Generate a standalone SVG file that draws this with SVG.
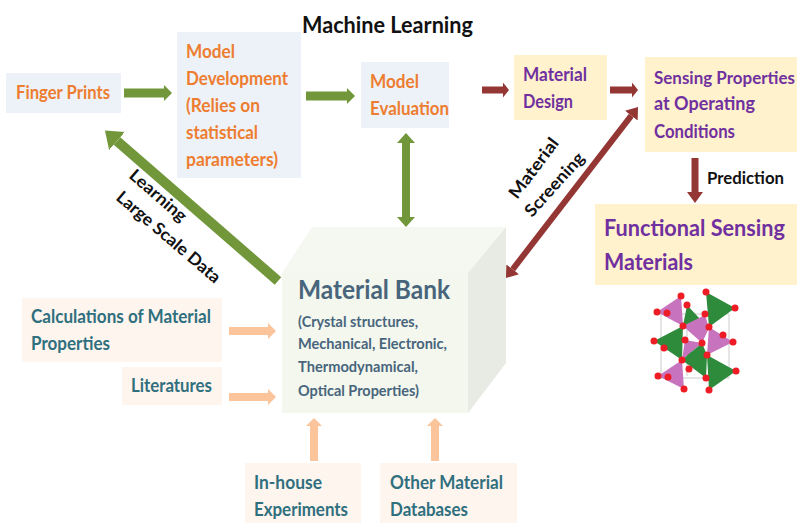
<svg xmlns="http://www.w3.org/2000/svg" width="797" height="523" viewBox="0 0 797 523">
<style>
text{font-family:Lato,"Liberation Sans",sans-serif;font-weight:700}
.o{fill:#ed7d31;font-size:18px}
.p{fill:#7030a0;font-size:18px}
.t{fill:#2f6f7e;font-size:18px}
.b{fill:#48657c;font-size:15.5px}
.k{fill:#111;font-size:17px}
.f{fill:#7030a0;font-size:22px}
.blue{fill:#edf2f8}.yel{fill:#fff2cc}.pea{fill:#fdf5ee}
.gl{stroke:#71973a;fill:none}.rl{stroke:#943634;fill:none}.pl{stroke:#fbc49a;fill:none}
.green{fill:#71973a}.red{fill:#943634}.peach{fill:#fbc49a}
.m{fill:#c873bd}.g{fill:#2e8b3c}.d{fill:#ee1c25}
</style>
<defs>
<marker id="ag" markerUnits="userSpaceOnUse" markerWidth="10" markerHeight="18" refX="0" refY="8" orient="auto"><path class="green" d="M0 0L8 8L0 16Z"/></marker>
<marker id="agl" markerUnits="userSpaceOnUse" markerWidth="18" markerHeight="26" refX="0" refY="12" orient="auto"><path class="green" d="M0 0L16 12L0 24Z"/></marker>
<marker id="agb" markerUnits="userSpaceOnUse" markerWidth="12" markerHeight="20" refX="0" refY="9" orient="auto-start-reverse"><path class="green" d="M0 0L10 9L0 18Z"/></marker>
<marker id="ar" markerUnits="userSpaceOnUse" markerWidth="8" markerHeight="16" refX="0" refY="7.5" orient="auto"><path class="red" d="M0 0L6 7.5L0 15Z"/></marker>
<marker id="ard" markerUnits="userSpaceOnUse" markerWidth="14" markerHeight="18" refX="0" refY="8" orient="auto-start-reverse"><path class="red" d="M0 0L11 8L0 16Z"/></marker>
<marker id="ap" markerUnits="userSpaceOnUse" markerWidth="10" markerHeight="18" refX="0" refY="8" orient="auto"><path class="peach" d="M0 0L8 8L0 16Z"/></marker>
</defs>

<text id="title" class="k" x="302" y="33" style="font-size:22.5px" textLength="171" lengthAdjust="spacingAndGlyphs">Machine Learning</text>

<g id="finger-prints"><rect class="blue" x="6" y="73" width="115" height="40"/><text class="o" x="16" y="99" textLength="94" lengthAdjust="spacingAndGlyphs">Finger Prints</text></g>
<g id="model-development"><rect class="blue" x="177" y="32" width="124" height="146"/>
<text class="o" x="186" y="58" textLength="49" lengthAdjust="spacingAndGlyphs">Model</text><text class="o" x="186" y="85" textLength="102" lengthAdjust="spacingAndGlyphs">Development</text><text class="o" x="186" y="112" textLength="74" lengthAdjust="spacingAndGlyphs">(Relies on</text><text class="o" x="186" y="139" textLength="72" lengthAdjust="spacingAndGlyphs">statistical</text><text class="o" x="186" y="166" textLength="92" lengthAdjust="spacingAndGlyphs">parameters)</text></g>
<g id="model-evaluation"><rect class="blue" x="361" y="62" width="88" height="66"/><text class="o" x="370" y="88" textLength="49" lengthAdjust="spacingAndGlyphs">Model</text><text class="o" x="370" y="115" textLength="79" lengthAdjust="spacingAndGlyphs">Evaluation</text></g>
<g id="material-design"><rect class="yel" x="514" y="55" width="93" height="65"/><text class="p" x="523" y="81" textLength="64" lengthAdjust="spacingAndGlyphs">Material</text><text class="p" x="523" y="108" textLength="50" lengthAdjust="spacingAndGlyphs">Design</text></g>
<g id="sensing-properties"><rect class="yel" x="645" y="57" width="152" height="95"/><text class="p" x="654" y="84" style="font-size:16.500px" textLength="141" lengthAdjust="spacingAndGlyphs">Sensing Properties</text><text class="p" x="654" y="110" textLength="101" lengthAdjust="spacingAndGlyphs">at Operating</text><text class="p" x="654" y="138" textLength="81" lengthAdjust="spacingAndGlyphs">Conditions</text></g>
<g id="functional"><rect class="yel" x="595" y="204" width="202" height="81"/><text class="f" x="604" y="236" textLength="181" lengthAdjust="spacingAndGlyphs">Functional Sensing</text><text class="f" x="604" y="270" textLength="89" lengthAdjust="spacingAndGlyphs">Materials</text></g>

<g id="material-bank">
<path fill="#f5f8f1" d="M282 273L312 227H506L468 273Z"/>
<path fill="#e8ebe3" d="M468 273L506 227V363L468 413Z"/>
<rect fill="#f3f7ee" x="282" y="273" width="186" height="140"/>
<text x="298" y="299" style="font-size:26px;fill:#48657c" textLength="152" lengthAdjust="spacingAndGlyphs">Material Bank</text>
<text class="b" x="298" y="327" textLength="120" lengthAdjust="spacingAndGlyphs">(Crystal structures,</text><text class="b" x="298" y="349" textLength="149" lengthAdjust="spacingAndGlyphs">Mechanical, Electronic,</text><text class="b" x="298" y="372" textLength="120" lengthAdjust="spacingAndGlyphs">Thermodynamical,</text><text class="b" x="298" y="396" textLength="121" lengthAdjust="spacingAndGlyphs">Optical Properties)</text>
</g>
<g id="calculations"><rect class="pea" x="22" y="298" width="200" height="64"/><text class="t" x="31" y="323" textLength="180" lengthAdjust="spacingAndGlyphs">Calculations of Material</text><text class="t" x="31" y="350" textLength="79" lengthAdjust="spacingAndGlyphs">Properties</text></g>
<g id="literatures"><rect class="pea" x="122" y="367" width="100" height="38"/><text class="t" x="131" y="392" textLength="81" lengthAdjust="spacingAndGlyphs">Literatures</text></g>
<g id="in-house"><rect class="pea" x="245" y="463" width="116" height="60"/><text class="t" x="254" y="489" textLength="68" lengthAdjust="spacingAndGlyphs">In-house</text><text class="t" x="254" y="516" textLength="94" lengthAdjust="spacingAndGlyphs">Experiments</text></g>
<g id="other-databases"><rect class="pea" x="380" y="463" width="137" height="60"/><text class="t" x="390" y="489" textLength="113" lengthAdjust="spacingAndGlyphs">Other Material</text><text class="t" x="390" y="516" textLength="78" lengthAdjust="spacingAndGlyphs">Databases</text></g>

<g id="connectors" stroke-width="8">
<path class="gl" d="M124 93H164" stroke-width="9" marker-end="url(#ag)"/>
<path class="gl" d="M306 96H347" stroke-width="9" marker-end="url(#ag)"/>
<path class="gl" d="M406 143V217" marker-start="url(#agb)" marker-end="url(#agb)"/>
<path class="gl" d="M278 281L117 141" stroke-width="10" marker-end="url(#agl)"/>
<path class="rl" d="M482 90H503" stroke-width="7" marker-end="url(#ar)"/>
<path class="rl" d="M610 90H632" stroke-width="7" marker-end="url(#ar)"/>
<path class="rl" d="M695 158V192" stroke-width="7" marker-end="url(#ard)"/>
<path class="rl" d="M631.300 115.700L512.700 269.300" stroke-width="6" marker-start="url(#ard)" marker-end="url(#ard)"/>
<path class="pl" d="M229 331H268" marker-end="url(#ap)"/>
<path class="pl" d="M229 397H268" marker-end="url(#ap)"/>
<path class="pl" d="M314 461V426" marker-end="url(#ap)"/>
<path class="pl" d="M435 461V426" marker-end="url(#ap)"/>
</g>

<text id="label-learning" class="k" transform="translate(128 177) rotate(41)" textLength="70" lengthAdjust="spacingAndGlyphs">Learning</text>
<text id="label-large-scale" class="k" transform="translate(115 199) rotate(40.500)" textLength="131" lengthAdjust="spacingAndGlyphs">Large Scale Data</text>
<text id="label-material" class="k" transform="translate(517 200) rotate(-53)" textLength="71" lengthAdjust="spacingAndGlyphs">Material</text>
<text id="label-screening" class="k" transform="translate(532 218) rotate(-48)" textLength="80" lengthAdjust="spacingAndGlyphs">Screening</text>
<text id="label-prediction" class="k" x="707" y="184" textLength="77" lengthAdjust="spacingAndGlyphs">Prediction</text>

<g id="crystal">
<path fill="none" stroke="#ddd" stroke-width="1.500" d="M661 314H729V378H661ZM687 304V376"/>
<path class="g" d="M687 305L700 319L683 326Z"/>
<path class="g" d="M685 340L696 360L689 365Z"/>
<path class="m" d="M681 296L657 312L683 326Z"/>
<path class="g" d="M706 292L735 308L709 327Z"/>
<path class="m" d="M683 326L705 315L709 328L702 343Z"/>
<path class="m" d="M709 327L733 342L707 355Z"/>
<path class="g" d="M683 326L654 341L682 360Z"/>
<path class="m" d="M685 340L702 343L682 360Z"/>
<path class="g" d="M702 343L682 360L706 378L707 355Z"/>
<path class="g" d="M707 355L736 371L709 390Z"/>
<path class="m" d="M682 360L658 376L684 389Z"/>
<g class="d">
<circle cx="681" cy="296" r="3.500"/><circle cx="706" cy="292" r="3.500"/><circle cx="687" cy="305" r="3.500"/><circle cx="735" cy="308" r="3.500"/><circle cx="657" cy="312" r="3.500"/><circle cx="667" cy="313" r="3.500"/><circle cx="705" cy="314" r="3.500"/><circle cx="683" cy="326" r="3.500"/><circle cx="709" cy="327" r="3.500"/><circle cx="723" cy="335" r="3.500"/><circle cx="733" cy="342" r="3.500"/><circle cx="654" cy="341" r="3.500"/><circle cx="685" cy="340" r="3.500"/><circle cx="702" cy="343" r="3.500"/><circle cx="664" cy="348" r="3.500"/><circle cx="707" cy="355" r="3.500"/><circle cx="682" cy="360" r="3.500"/><circle cx="689" cy="369" r="3.500"/><circle cx="736" cy="371" r="3.500"/><circle cx="658" cy="376" r="3.500"/><circle cx="668" cy="377" r="3.500"/><circle cx="706" cy="378" r="3.500"/><circle cx="684" cy="389" r="3.500"/><circle cx="709" cy="390" r="3.500"/>
</g>
</g>
</svg>
